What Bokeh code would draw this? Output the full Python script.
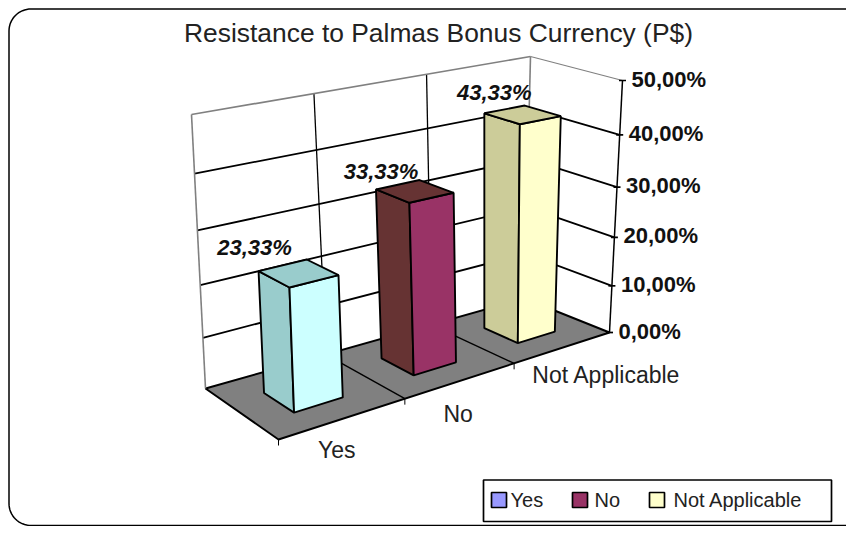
import math
from bokeh.plotting import figure
from bokeh.embed import file_html
from bokeh.resources import INLINE
from bokeh.core.properties import value

title = "Resistance to Palmas Bonus Currency (P$)"
categories = ["Yes", "No", "Not Applicable"]
values = [23.33, 33.33, 43.33]
value_labels = ["23,33%", "33,33%", "43,33%"]
ticks = [0, 10, 20, 30, 40, 50]
tick_labels = ["0,00%", "10,00%", "20,00%", "30,00%", "40,00%", "50,00%"]
front_colors = ["#CCFFFF", "#993366", "#FFFFCC"]
side_colors = ["#99CCCC", "#663333", "#CCCC99"]
legend_colors = ["#9999FF", "#993366", "#FFFFCC"]

FONT = value("Liberation Sans")
W, H = 846, 526


def homography(q00, q10, q11, q01):
    x0, y0 = q00; x1, y1 = q10; x2, y2 = q11; x3, y3 = q01
    dx1, dx2, sx = x1 - x2, x3 - x2, x0 - x1 + x2 - x3
    dy1, dy2, sy = y1 - y2, y3 - y2, y0 - y1 + y2 - y3
    det = dx1 * dy2 - dx2 * dy1
    g = (sx * dy2 - dx2 * sy) / det
    h = (dx1 * sy - sx * dy1) / det
    a, b, c = x1 - x0 + g * x1, x3 - x0 + h * x3, x0
    d, e, f = y1 - y0 + g * y1, y3 - y0 + h * y3, y0

    def m(u, v):
        w = g * u + h * v + 1
        return (a * u + b * v + c) / w, (d * u + e * v + f) / w
    return m


floor_map = homography((278, 439), (609, 332), (524, 298), (205, 388))
top_map = homography((269, 146), (622, 80), (530, 56), (191, 114))
Y_MAX = ticks[-1]


def project(u, v, w):
    """u: category position 0..3, v: depth 0..1, w: value on the axis."""
    t = w / Y_MAX
    frac = t / (1 + 0.1 * (1 - t))
    bx, by = floor_map(u / 3, v)
    tx, ty = top_map(u / 3, v)
    return bx + (tx - bx) * frac, by + (ty - by) * frac


p = figure(width=W, height=H, x_range=(0, W), y_range=(H, 0),
           output_backend="svg", toolbar_location=None, min_border=0,
           outline_line_color=None, background_fill_color="white",
           border_fill_color="white")
p.xaxis.visible = False
p.yaxis.visible = False
p.grid.visible = False


def seg(pts, color="black", width=1.5):
    p.line([a[0] for a in pts], [a[1] for a in pts], line_color=color, line_width=width)


def poly(pts, fill, line="black", width=1.9):
    p.patch([a[0] for a in pts], [a[1] for a in pts], fill_color=fill,
            line_color=line, line_width=width)


# outer rounded frame (open at the right, as the picture runs off there)
R = 22
L, T, B, RT = 8.5, 8.5, H - 1, W
fx, fy = [RT], [T]
for i in range(17):
    a = math.pi / 2 + i / 16 * math.pi / 2
    fx.append(L + R + R * math.cos(a)); fy.append(T + R - R * math.sin(a))
for i in range(17):
    a = math.pi + i / 16 * math.pi / 2
    fx.append(L + R + R * math.cos(a)); fy.append(B - R - R * math.sin(a))
fx.append(RT); fy.append(B)
p.line(fx, fy, line_color="black", line_width=1.5)

# floor
poly([project(0, 0, 0), project(3, 0, 0), project(3, 1, 0), project(0, 1, 0)], "#808080", "black", 1.9)
for u in (1, 2):
    seg([project(u, 0, 0), project(u, 1, 0)], width=1.4)

# walls and grid
for w in ticks[1:-1]:
    seg([project(0, 1, w), project(3, 1, w), project(3, 0, w)], width=1.8)
for u in (1, 2):
    seg([project(u, 1, 0), project(u, 1, Y_MAX)], width=1.3)
seg([project(0, 1, 0), project(0, 1, Y_MAX)], "#808080", 1.6)
seg([project(3, 1, 0), project(3, 1, Y_MAX)], "#808080", 1.6)
seg([project(0, 1, Y_MAX), project(3, 1, Y_MAX)], "#808080", 1.7)
seg([project(3, 1, Y_MAX), project(3, 0, Y_MAX)], "#808080", 1.2)

# value axis
seg([project(3, 0, 0), project(3, 0, Y_MAX)], width=1.5)
for w, lab in zip(ticks, tick_labels):
    x, y = project(3, 0, w)
    seg([(x - 3.5, y), (x + 3.5, y)], width=1.7)
    p.text([x + 9], [y - 1.5], text=[lab], text_font=FONT, text_font_size="22px",
           text_font_style="bold", text_color="#111111", text_baseline="middle", text_align="left")

# category axis
for u in (0, 1, 2):
    x, y = project(u, 0, 0)
    seg([(x, y), (x, y + 6)], width=1)
cat_offsets = [(-68, 51), (-56, 51), (-3, 42)]
for i, cat in enumerate(categories):
    x, y = project(i + 1, 0, 0)
    p.text([x + cat_offsets[i][0]], [y + cat_offsets[i][1]], text=[cat], text_font=FONT,
           text_font_size="23px", text_color="#222222", text_baseline="middle", text_align="center")

# bars
U0, U1, V0, V1 = 0.285, 0.675, 0.28, 0.68
label_offsets = [(-4, -24), (5, -18), (10, -21)]
for i in reversed(range(3)):
    v = values[i]
    a, b = i + U0, i + U1
    poly([project(a, V0, 0), project(a, V1, 0), project(a, V1, v), project(a, V0, v)], side_colors[i])
    poly([project(a, V0, 0), project(b, V0, 0), project(b, V0, v), project(a, V0, v)], front_colors[i])
    poly([project(a, V0, v), project(b, V0, v), project(b, V1, v), project(a, V1, v)], side_colors[i])
    x, y = project(a, V1, v)
    p.text([x + label_offsets[i][0]], [y + label_offsets[i][1]], text=[value_labels[i]], text_font=FONT,
           text_font_size="22px", text_font_style="bold italic", text_color="#111111",
           text_baseline="middle", text_align="center")

# title
p.text([438], [32], text=[title], text_font=FONT, text_font_size="26.4px", text_color="#222222",
       text_baseline="middle", text_align="center")

# legend
p.quad(left=[483], right=[831], top=[479.5], bottom=[521], fill_color="white",
       line_color="black", line_width=1.7)
swatch_x = [491, 572, 649]
label_x = [510, 594, 673]
for sx, lx, col, cat in zip(swatch_x, label_x, legend_colors, categories):
    p.quad(left=[sx], right=[sx + 15], top=[492], bottom=[507], fill_color=col,
           line_color="black", line_width=1.7)
    p.text([lx], [499], text=[cat], text_font=FONT, text_font_size="20px", text_color="#222222",
           text_baseline="middle", text_align="left")

open("out.html", "w").write(file_html(p, INLINE))
